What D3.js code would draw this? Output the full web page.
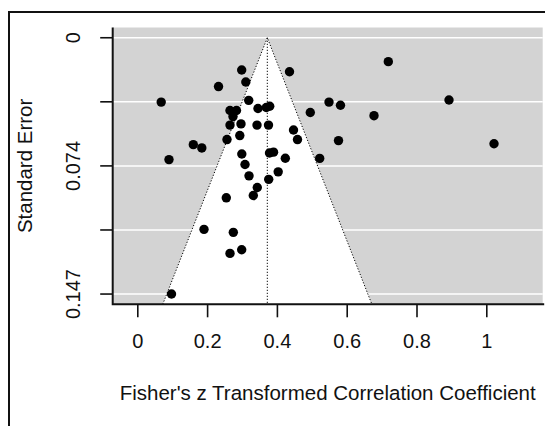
<!DOCTYPE html>
<html>
<head>
<meta charset="utf-8">
<script src="https://cdn.jsdelivr.net/npm/d3@7"></script>
<style>
  html, body { margin: 0; padding: 0; background: #fff; }
  svg { display: block; font-family: "Liberation Sans", Arial, sans-serif; }
</style>
</head>
<body>
<div id="chart"></div>
<script>
// --- Data ---
const zValues = [
    0.0685, 0.0908, 0.1605, 0.1848, 0.2327, 0.2991, 0.3109, 0.3192,
    0.2656, 0.2842, 0.2742, 0.2656, 0.2570, 0.2971, 0.2937, 0.3458,
    0.3696, 0.3794, 0.3430, 0.3759, 0.4361, 0.4476, 0.4590, 0.2994,
    0.3086, 0.3788, 0.3903, 0.4241, 0.4037, 0.3201, 0.3438, 0.3324,
    0.3765, 0.2550, 0.1911, 0.2751, 0.2656, 0.2991, 0.0980, 0.7192,
    0.5493, 0.5822, 0.4957, 0.6782, 0.8931, 0.5765, 1.0221, 0.5226
];
const seValues = [
    0.0369, 0.0699, 0.0613, 0.0632, 0.0280, 0.0185, 0.0254, 0.0359,
    0.0417, 0.0417, 0.0452, 0.0501, 0.0584, 0.0494, 0.0561, 0.0406,
    0.0400, 0.0393, 0.0501, 0.0501, 0.0195, 0.0529, 0.0584, 0.0667,
    0.0727, 0.0661, 0.0656, 0.0691, 0.0769, 0.0792, 0.0859, 0.0905,
    0.0812, 0.0918, 0.1099, 0.1116, 0.1237, 0.1216, 0.1470, 0.0137,
    0.0369, 0.0387, 0.0429, 0.0447, 0.0357, 0.0590, 0.0608, 0.0692
];
const estimate = 0.3725;
const xTicks = [0, 0.2, 0.4, 0.6, 0.8, 1];
const xTickLabels = ["0", "0.2", "0.4", "0.6", "0.8", "1"];
const yTicks = [0, 0.03675, 0.0735, 0.11025, 0.147];
const yTickLabels = ["0", "", "0.074", "", "0.147"];
const xTitle = "Fisher's z Transformed Correlation Coefficient";
const yTitle = "Standard Error";

// --- Layout ---
const width = 545, height = 426;
const plot = { left: 112.7, right: 542.7, top: 27.5, bottom: 304.3 };
const fontSize = 20;

const svg = d3.select("#chart").append("svg")
    .attr("width", width).attr("height", height);

// outer frame (cropped off on the right and bottom)
svg.append("rect")
    .attr("x", 9).attr("y", 12)
    .attr("width", width + 20).attr("height", height + 20)
    .attr("fill", "none").attr("stroke", "#111").attr("stroke-width", 2);

const x = d3.scaleLinear().domain([-0.0705, 1.1616]).range([plot.left, plot.right]);
const y = d3.scaleLinear().domain([-0.00588, 0.15288]).range([plot.top, plot.bottom]);

const g = svg.append("g");

// grey background
g.append("rect")
    .attr("x", plot.left).attr("y", plot.top)
    .attr("width", plot.right - plot.left).attr("height", plot.bottom - plot.top)
    .attr("fill", "#d3d3d3");

// white grid lines at y ticks
g.selectAll(".grid").data(yTicks).enter().append("line")
    .attr("class", "grid")
    .attr("x1", plot.left).attr("x2", plot.right)
    .attr("y1", d => y(d)).attr("y2", d => y(d))
    .attr("stroke", "#fff").attr("stroke-width", 1.5);

// funnel region
const seMax = y.domain()[1];
const funnel = [
    [estimate - 1.96 * seMax, seMax],
    [estimate, 0],
    [estimate + 1.96 * seMax, seMax]
];
g.append("path")
    .attr("d", d3.line().x(d => x(d[0])).y(d => y(d[1]))(funnel) + "Z")
    .attr("fill", "#fff");
g.append("path")
    .attr("d", d3.line().x(d => x(d[0])).y(d => y(d[1]))(funnel))
    .attr("fill", "none").attr("stroke", "#000").attr("stroke-width", 1)
    .attr("stroke-dasharray", "1.2 1.8");
g.append("line")
    .attr("x1", x(estimate)).attr("x2", x(estimate))
    .attr("y1", y(0)).attr("y2", y(seMax))
    .attr("stroke", "#000").attr("stroke-width", 1)
    .attr("stroke-dasharray", "1.2 1.8");

// points
g.selectAll(".pt").data(zValues).enter().append("circle")
    .attr("class", "pt")
    .attr("cx", d => x(d))
    .attr("cy", (d, i) => y(seValues[i]))
    .attr("r", 4.7)
    .attr("fill", "#000");

// box (left + bottom)
g.append("path")
    .attr("d", `M${plot.left},${plot.top}V${plot.bottom}H${plot.right + 1.5}`)
    .attr("fill", "none").attr("stroke", "#111").attr("stroke-width", 2);

// x axis
const xAxis = d3.axisBottom(x).tickValues(xTicks)
    .tickFormat((d, i) => xTickLabels[i]).tickSize(13).tickPadding(17);
const xAxisG = svg.append("g").attr("transform", `translate(0,${plot.bottom})`).call(xAxis);
xAxisG.select(".domain").remove();
xAxisG.selectAll(".tick line").attr("stroke", "#111").attr("stroke-width", 1.6);
xAxisG.selectAll(".tick text").attr("fill", "#111")
    .style("font-size", fontSize + "px").style("font-family", "Liberation Sans, Arial, sans-serif");

// y axis
const yAxisG = svg.append("g");
yAxisG.selectAll("line").data(yTicks).enter().append("line")
    .attr("x1", plot.left - 12.5).attr("x2", plot.left)
    .attr("y1", d => y(d)).attr("y2", d => y(d))
    .attr("stroke", "#111").attr("stroke-width", 1.6);
yAxisG.selectAll("text").data(yTicks).enter().append("text")
    .attr("transform", d => `translate(80,${y(d)}) rotate(-90)`)
    .attr("text-anchor", "middle")
    .attr("fill", "#111")
    .style("font-size", fontSize + "px")
    .text((d, i) => yTickLabels[i]);

// titles
svg.append("text")
    .attr("x", (plot.left + plot.right) / 2).attr("y", 400)
    .attr("text-anchor", "middle").attr("fill", "#111")
    .style("font-size", "20.5px")
    .text(xTitle);
svg.append("text")
    .attr("transform", `translate(31.5,${(plot.top + plot.bottom) / 2}) rotate(-90)`)
    .attr("text-anchor", "middle").attr("fill", "#111")
    .style("font-size", "20.5px")
    .text(yTitle);
</script>
</body>
</html>
